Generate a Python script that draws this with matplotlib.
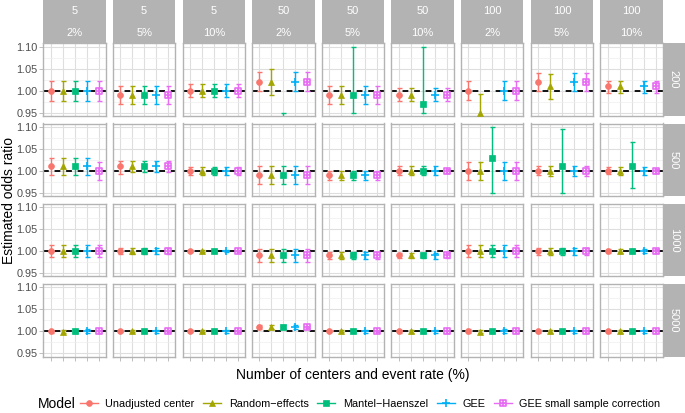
import numpy as np
import matplotlib
matplotlib.use('Agg')
import matplotlib.pyplot as plt
from matplotlib.path import Path
from matplotlib.patches import Rectangle
from matplotlib.lines import Line2D

plt.rcParams['font.family'] = ['Liberation Sans', 'DejaVu Sans']

centers = ['5', '5', '5', '50', '50', '50', '100', '100', '100']
rates = ['2%', '5%', '10%', '2%', '5%', '10%', '2%', '5%', '10%']
sizes = ['200', '500', '1000', '5000']
models = ['Unadjusted center', 'Random\u2212effects', 'Mantel\u2212Haenszel', 'GEE',
          'GEE small sample correction']
nan = np.nan

# rows = sample size, columns = centers/event rate
est_unadj = [[1.00, 0.99, 1.00, 1.02, 0.99, 0.99, 1.00, 1.02, 1.01],
             [1.01, 1.01, 1.00, 0.99, 0.99, 1.00, 1.00, 1.00, 1.00],
             [1.00, 1.00, 1.00, 0.99, 0.99, 0.99, 1.00, 1.00, 1.00],
             [1.00, 1.00, 1.00, 1.01, 1.00, 1.00, 1.00, 1.00, 1.00]]
lo_unadj = [[0.977, 0.97, 0.985, 1.00, 0.97, 0.976, 0.978, 1.00, 0.995],
            [0.99, 0.994, 0.99, 0.97, 0.98, 0.99, 0.98, 0.99, 0.993],
            [0.987, 0.993, 0.997, 0.976, 0.983, 0.985, 0.986, 0.992, 0.996],
            [0.996, 0.998, 0.998, 1.006, 0.998, 0.997, 0.995, 0.997, 0.997]]
hi_unadj = [[1.022, 1.01, 1.015, 1.043, 1.01, 1.005, 1.022, 1.04, 1.023],
            [1.03, 1.022, 1.008, 1.01, 1.00, 1.01, 1.02, 1.012, 1.008],
            [1.013, 1.007, 1.003, 1.005, 0.997, 0.995, 1.014, 1.008, 1.004],
            [1.004, 1.002, 1.002, 1.014, 1.002, 1.003, 1.005, 1.003, 1.003]]

est_re = [[1.00, 0.99, 1.00, 1.02, 0.99, 0.99, 0.95, 1.01, 1.01],
          [1.01, 1.01, 1.00, 0.99, 0.99, 1.00, 1.00, 1.00, 1.00],
          [1.00, 1.00, 1.00, 0.99, 0.99, 0.99, 1.00, 1.00, 1.00],
          [0.999, 1.00, 1.00, 1.01, 1.00, 1.00, 0.999, 1.00, 1.00]]
lo_re = [[0.977, 0.97, 0.985, 0.99, 0.97, 0.977, 0.94, 0.98, 0.995],
         [0.99, 0.997, 0.99, 0.97, 0.98, 0.99, 0.98, 0.988, 0.99],
         [0.987, 0.993, 0.997, 0.975, 0.982, 0.985, 0.986, 0.992, 0.996],
         [0.996, 0.998, 0.998, 1.006, 0.998, 0.997, 0.995, 0.997, 0.997]]
hi_re = [[1.022, 1.01, 1.015, 1.05, 1.011, 1.005, 0.993, 1.037, 1.023],
         [1.03, 1.022, 1.008, 1.01, 1.00, 1.01, 1.021, 1.012, 1.008],
         [1.013, 1.007, 1.003, 1.005, 0.998, 0.995, 1.014, 1.008, 1.004],
         [1.003, 1.002, 1.002, 1.015, 1.002, 1.003, 1.004, 1.003, 1.003]]

est_mh = [[1.00, 0.99, 1.00, 0.93, 0.99, 0.97, nan, nan, nan],
          [1.01, 1.01, 1.00, 0.99, 0.99, 1.00, 1.03, 1.01, 1.01],
          [1.00, 1.00, 1.00, 0.99, 0.99, 0.99, 1.00, 1.00, 1.00],
          [1.00, 1.00, 1.00, 1.01, 1.00, 1.00, 1.00, 1.00, 1.00]]
lo_mh = [[0.977, 0.97, 0.985, 0.91, 0.95, 0.95, nan, nan, nan],
         [0.99, 0.997, 0.99, 0.97, 0.98, 0.99, 0.95, 0.95, 0.96],
         [0.987, 0.993, 0.997, 0.975, 0.982, 0.985, 0.986, 0.992, 0.996],
         [0.996, 0.998, 0.998, 1.006, 0.998, 0.997, 0.996, 0.997, 0.997]]
hi_mh = [[1.022, 1.01, 1.015, 0.95, 1.10, 1.10, nan, nan, nan],
         [1.03, 1.022, 1.008, 1.01, 1.00, 1.01, 1.10, 1.095, 1.065],
         [1.013, 1.007, 1.003, 1.005, 0.998, 0.995, 1.014, 1.008, 1.004],
         [1.004, 1.002, 1.002, 1.014, 1.002, 1.003, 1.004, 1.003, 1.003]]

est_gee = [[1.00, 0.99, 1.00, 1.02, 0.99, 0.99, 1.00, 1.02, 1.01],
           [1.01, 1.01, 1.00, 0.99, 0.99, 1.00, 1.00, 1.00, 1.00],
           [1.00, 1.00, 1.00, 0.99, 0.99, 0.99, 1.00, 1.00, 1.00],
           [1.00, 1.00, 1.00, 1.01, 1.00, 1.00, 1.00, 1.00, 1.00]]
lo_gee = [[0.977, 0.97, 0.985, 1.00, 0.97, 0.977, 0.978, 1.00, 0.995],
          [0.99, 0.998, 0.99, 0.97, 0.98, 0.99, 0.98, 0.988, 0.99],
          [0.987, 0.993, 0.997, 0.975, 0.982, 0.983, 0.986, 0.992, 0.996],
          [0.995, 0.997, 0.997, 1.006, 0.997, 0.997, 0.995, 0.997, 0.997]]
hi_gee = [[1.022, 1.01, 1.015, 1.043, 1.01, 1.005, 1.022, 1.04, 1.023],
          [1.03, 1.022, 1.008, 1.01, 1.00, 1.01, 1.02, 1.012, 1.008],
          [1.013, 1.007, 1.003, 1.005, 0.998, 0.996, 1.014, 1.008, 1.004],
          [1.005, 1.003, 1.003, 1.014, 1.003, 1.003, 1.005, 1.003, 1.003]]

est_geess = [[1.00, 0.99, 1.00, 1.02, 0.99, 0.99, 1.00, 1.02, 1.01],
             [1.00, 1.01, 1.00, 0.99, 0.99, 1.00, 1.00, 1.00, 1.00],
             [1.00, 1.00, 1.00, 0.99, 0.99, 0.99, 1.00, 1.00, 1.00],
             [1.00, 1.00, 1.00, 1.01, 1.00, 1.00, 1.00, 1.00, 1.00]]
lo_geess = [[0.977, 0.97, 0.985, 1.00, 0.97, 0.977, 0.978, 1.00, 0.995],
            [0.98, 0.997, 0.99, 0.97, 0.98, 0.995, 0.98, 0.988, 0.996],
            [0.987, 0.993, 0.997, 0.975, 0.983, 0.985, 0.986, 0.992, 0.996],
            [0.997, 0.998, 0.998, 1.007, 0.998, 0.997, 0.996, 0.997, 0.997]]
hi_geess = [[1.022, 1.011, 1.015, 1.043, 1.01, 1.005, 1.022, 1.04, 1.023],
            [1.02, 1.022, 1.008, 1.01, 1.00, 1.005, 1.02, 1.012, 1.004],
            [1.013, 1.007, 1.003, 1.005, 0.997, 0.995, 1.014, 1.008, 1.004],
            [1.003, 1.002, 1.002, 1.013, 1.002, 1.003, 1.004, 1.003, 1.003]]

colors = ['#F8766D', '#A3A500', '#00BF7D', '#00B0F6', '#E76BF3']

# square with a cross (ggplot shape 12)
sqplus = Path([(-1, -1), (1, -1), (1, 1), (-1, 1), (-1, -1), (0, -1), (0, 1), (-1, 0), (1, 0)],
              [Path.MOVETO, Path.LINETO, Path.LINETO, Path.LINETO, Path.CLOSEPOLY,
               Path.MOVETO, Path.LINETO, Path.MOVETO, Path.LINETO])
markers = ['o', '^', 's', '+', sqplus]
msizes = [4.2, 4.6, 4.0, 5.6, 4.6]
data = [(est_unadj, lo_unadj, hi_unadj), (est_re, lo_re, hi_re), (est_mh, lo_mh, hi_mh),
        (est_gee, lo_gee, hi_gee), (est_geess, lo_geess, hi_geess)]

W, H = 685, 413
fig = plt.figure(figsize=(W / 100, H / 100), dpi=100)

def box(x, y, w, h):
    return [x / W, 1 - (y + h) / H, w / W, h / H]

def marker_style(m):
    filled = m in (0, 1, 2)
    return dict(marker=markers[m], ms=msizes[m], color=colors[m],
                mfc=colors[m] if filled else 'none', mew=0.5 if filled else 1.2)

x0, dx, pw = 43.3, 69.625, 62.4
y0, dy, ph = 43.3, 80.2, 72.7
strip_col = '#B3B3B3'
xpos = np.arange(1, 6)

for r in range(4):
    for c in range(9):
        ax = fig.add_axes(box(x0 + c * dx, y0 + r * dy, pw, ph))
        ax.set_xlim(0.4, 5.6)
        ax.set_ylim(0.9425, 1.1075)
        ax.set_yticks([0.95, 1.00, 1.05, 1.10])
        ax.set_yticks([0.975, 1.025, 1.075], minor=True)
        ax.set_xticks(xpos)
        ax.grid(True, which='major', color='#DEDEDE', lw=0.8)
        ax.grid(True, which='minor', axis='y', color='#EEEEEE', lw=0.5)
        ax.set_axisbelow(True)
        for s in ax.spines.values():
            s.set_color(strip_col)
            s.set_linewidth(1.0)
        ax.tick_params(which='both', length=0)
        ax.tick_params(which='major', color=strip_col, width=0.6, labelsize=7.8,
                       labelcolor='#4D4D4D', pad=1.5)
        if c == 0:
            ax.tick_params(axis='y', which='major', length=2.7)
            ax.set_yticklabels(['0.95', '1.00', '1.05', '1.10'])
        else:
            ax.set_yticklabels([])
        ax.set_xticklabels([])
        if r == 3:
            ax.tick_params(axis='x', which='major', length=2.7)
        ax.axhline(1.0, color='black', lw=1.3, ls=(0, (3.2, 3.2)), zorder=1.5)
        for m in range(5):
            est, lo, hi = data[m]
            e, l, h = est[r][c], lo[r][c], hi[r][c]
            if np.isnan(e):
                continue
            ax.errorbar([xpos[m]], [e], yerr=[[e - l], [h - e]], fmt='none', ecolor=colors[m],
                        elinewidth=1.0, capsize=1.8, capthick=1.0, zorder=2)
            ax.plot([xpos[m]], [e], ls='none', zorder=3, **marker_style(m))
        if r == 0:
            fig.patches.append(Rectangle(((x0 + c * dx) / W, 1 - y0 / H), pw / W, y0 / H,
                                         transform=fig.transFigure, color=strip_col, lw=0))
            fig.text((x0 + c * dx + pw / 2) / W, 1 - 11.5 / H, centers[c], color='white',
                     fontsize=8, ha='center', va='center')
            fig.text((x0 + c * dx + pw / 2) / W, 1 - 32.5 / H, rates[c], color='white',
                     fontsize=8, ha='center', va='center')
    sx = x0 + 8 * dx + pw
    fig.patches.append(Rectangle((sx / W, 1 - (y0 + r * dy + ph) / H), (W - sx) / W, ph / H,
                                 transform=fig.transFigure, color=strip_col, lw=0))
    fig.text((sx + (W - sx) / 2) / W, 1 - (y0 + r * dy + ph / 2) / H, sizes[r], color='white',
             fontsize=8, ha='center', va='center', rotation=270)

fig.text(9 / W, 1 - 200 / H, 'Estimated odds ratio', rotation=90, fontsize=10,
         ha='center', va='center')
fig.text(353 / W, 1 - 375 / H, 'Number of centers and event rate (%)', fontsize=10,
         ha='center', va='center')

fig.text(38 / W, 1 - 404 / H, 'Model', fontsize=10, ha='left', va='center')
handles = [Line2D([], [], lw=1.0, **marker_style(m)) for m in range(5)]
fig.legend(handles, models, loc='center left', bbox_to_anchor=(80 / W, 1 - 404 / H),
           ncol=5, frameon=False, fontsize=7.8, handlelength=1.65, handletextpad=0.7,
           columnspacing=0.8, borderpad=0, borderaxespad=0)

fig.savefig('out.png', dpi=100)
